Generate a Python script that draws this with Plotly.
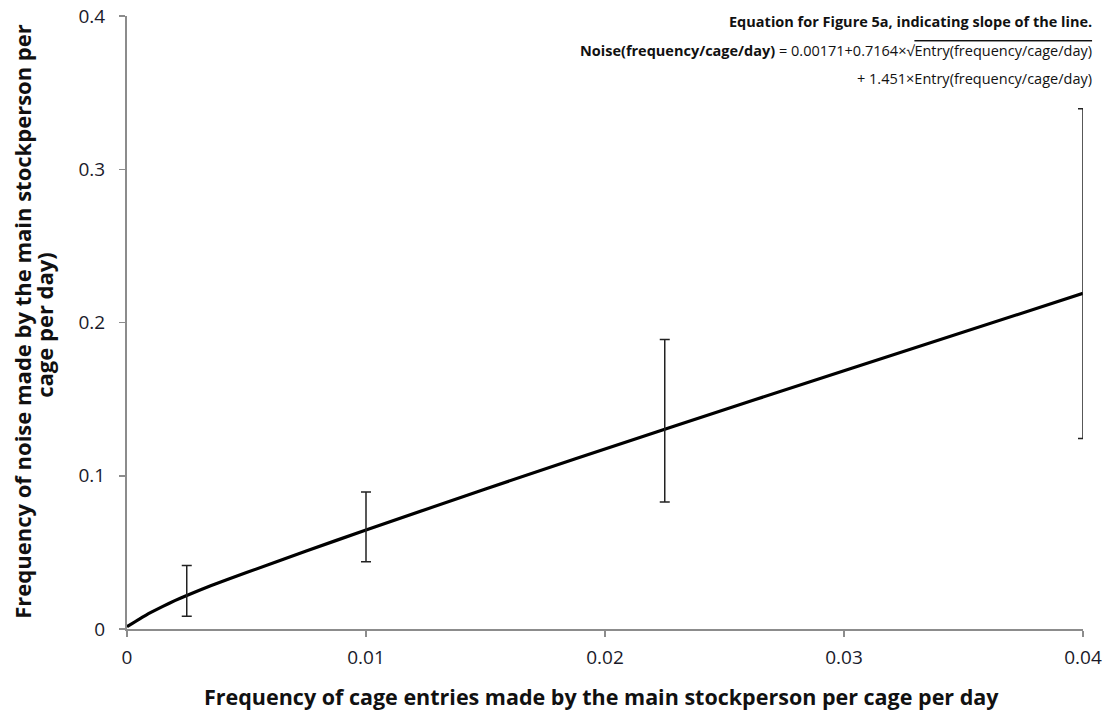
import plotly.graph_objects as go

# Fitted curve
curve_x = [0, 0.0005, 0.001, 0.0015, 0.002, 0.0025, 0.0035, 0.005, 0.0075, 0.01, 0.015, 0.0225, 0.03, 0.04]
curve_y = [0.0015, 0.0063, 0.0108, 0.0148, 0.0185, 0.0219, 0.0282, 0.0368, 0.0509, 0.0646, 0.0914, 0.1304, 0.1685, 0.219]

# Error bars
err_x = [0.0025, 0.01, 0.0225, 0.04]
err_mid = [0.0219, 0.0646, 0.1304, 0.219]
err_top = [0.0415, 0.0894, 0.1889, 0.3395]
err_bottom = [0.0084, 0.0439, 0.0829, 0.1243]

x_ticks = [0, 0.01, 0.02, 0.03, 0.04]
x_tick_labels = ["0", "0.01", "0.02", "0.03", "0.04"]
y_ticks = [0, 0.1, 0.2, 0.3, 0.4]
y_tick_labels = ["0", "0.1", "0.2", "0.3", "0.4"]

x_title = "Frequency of cage entries made by the main stockperson per cage per day"
y_title_lines = ["Frequency of noise made by the main stockperson per", "cage per day)"]
eq_lines = [
    "<b>Equation for Figure 5a, indicating slope of the line.</b>",
    "<b>Noise(frequency/cage/day)</b> = 0.00171+0.7164×√<span style='text-decoration:overline'>Entry(frequency/cage/day)</span>",
    "+ 1.451×Entry(frequency/cage/day)",
]

FONT = "'Open Sans', sans-serif"
L, R, T, B = 127, 1083, 16, 629.5
W, H = 1108, 720


def px(xp):
    return (xp - L) / (R - L)


def py(yp):
    return (B - yp) / (B - T)


fig = go.Figure()
fig.add_trace(go.Scatter(
    x=curve_x, y=curve_y, mode="lines",
    line=dict(color="black", width=3.2, shape="spline", smoothing=0.4),
    showlegend=False, hoverinfo="skip"))
fig.add_trace(go.Scatter(
    x=err_x, y=err_mid, mode="markers",
    marker=dict(size=1, color="rgba(0,0,0,0)"),
    error_y=dict(type="data", symmetric=False,
                 array=[t - m for t, m in zip(err_top, err_mid)],
                 arrayminus=[m - b for m, b in zip(err_mid, err_bottom)],
                 color="#222", thickness=1.5, width=5),
    showlegend=False, hoverinfo="skip", cliponaxis=False))

axis_common = dict(showgrid=False, zeroline=False, showline=True, linecolor="#8c8c8c",
                   linewidth=2, ticks="outside", ticklen=6, tickcolor="#8c8c8c",
                   tickwidth=1.5, automargin=False, ticklabeloverflow="allow",
                   tickfont=dict(family=FONT, size=19, color="#1a1a2a"))

fig.update_layout(
    width=W, height=H,
    margin=dict(l=L, r=W - R, t=T, b=H - B),
    plot_bgcolor="white", paper_bgcolor="white",
    font=dict(family=FONT),
    xaxis=dict(range=[0, 0.04], tickvals=x_ticks, ticktext=x_tick_labels,
               ticklabelstandoff=4, **axis_common),
    yaxis=dict(range=[0, 0.4], tickvals=y_ticks, ticktext=y_tick_labels,
               ticklabelstandoff=10, **axis_common),
)

# Axis titles
fig.add_annotation(xref="paper", yref="paper", x=px(601), y=py(697), xanchor="center", yanchor="middle",
                   showarrow=False, text="<b>" + x_title + "</b>",
                   font=dict(family=FONT, size=21.5, color="#111"))
fig.add_annotation(xref="paper", yref="paper", x=px(22), y=py(322), xanchor="center", yanchor="middle",
                   showarrow=False, textangle=-90, text="<b>" + y_title_lines[0] + "</b>",
                   font=dict(family=FONT, size=22, color="#111"))
fig.add_annotation(xref="paper", yref="paper", x=px(44), y=py(325), xanchor="center", yanchor="middle",
                   showarrow=False, textangle=-90, text="<b>" + y_title_lines[1] + "</b>",
                   font=dict(family=FONT, size=22, color="#111"))

# Equation text
for line, ycen in zip(eq_lines, [22, 51, 79]):
    fig.add_annotation(xref="paper", yref="paper", x=px(1094), y=py(ycen), xanchor="right", yanchor="middle",
                       showarrow=False, text=line, font=dict(family=FONT, size=14.5, color="#111"))

fig.write_html("out.html", config={"displayModeBar": False, "staticPlot": True},
               post_script="document.body.style.margin='0';document.body.style.overflow='hidden';")
